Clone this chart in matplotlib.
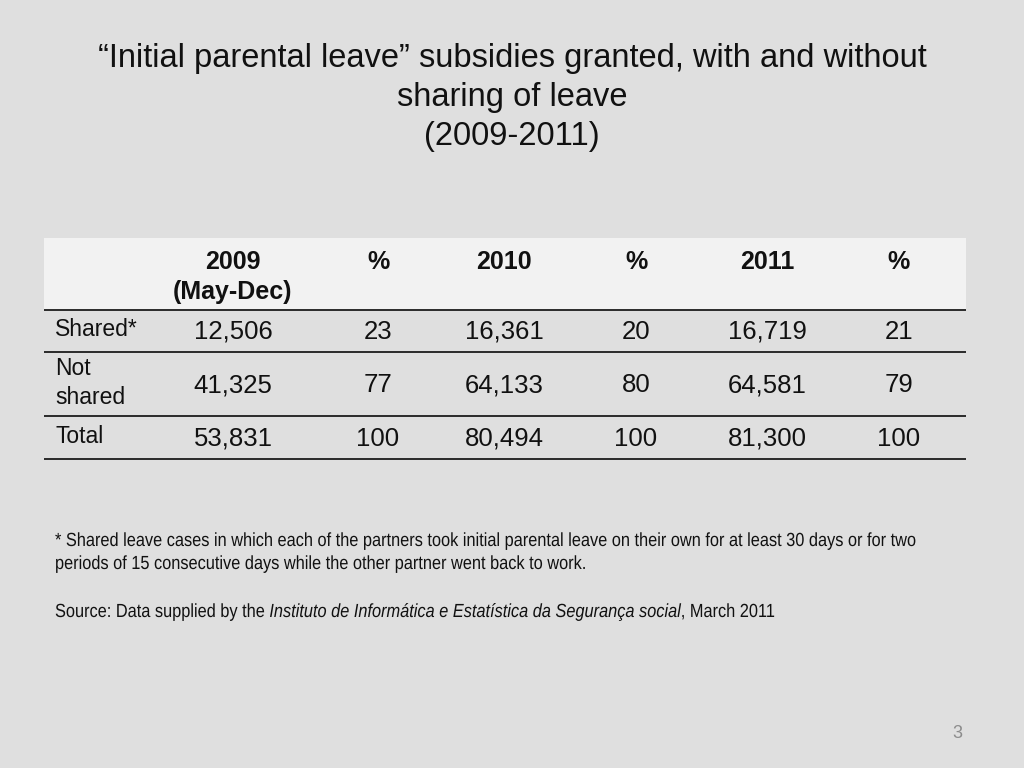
import matplotlib.pyplot as plt
from matplotlib.patches import Rectangle, PathPatch
from matplotlib.font_manager import FontProperties
from matplotlib.textpath import TextPath, text_to_path
from matplotlib.transforms import Affine2D

title_lines = ["\u201cInitial parental leave\u201d subsidies granted, with and without",
               "sharing of leave",
               "(2009-2011)"]
col_headers = ["2009\n(May-Dec)", "%", "2010", "%", "2011", "%"]
row_labels = ["Shared*", "Not\nshared", "Total"]
values = [
    ["12,506", "23", "16,361", "20", "16,719", "21"],
    ["41,325", "77", "64,133", "80", "64,581", "79"],
    ["53,831", "100", "80,494", "100", "81,300", "100"],
]
footnote_lines = [
    "* Shared leave cases in which each of the partners took initial parental leave on their own for at least 30 days or for two",
    "periods of 15 consecutive days while the other partner went back to work.",
]
source_parts = [("Source: Data supplied by the ", "normal"),
                ("Instituto de Inform\u00e1tica e Estat\u00edstica da Seguran\u00e7a social", "italic"),
                (", March 2011", "normal")]

plt.rcParams['font.family'] = ['Liberation Sans', 'DejaVu Sans']
INK = "#111111"

fig = plt.figure(figsize=(10.24, 7.68), dpi=100)
fig.patch.set_facecolor("#dfdfdf")
ax = fig.add_axes([0, 0, 1, 1])
ax.set_xlim(0, 1024)
ax.set_ylim(768, 0)
ax.axis("off")


def text_width(s, px, style="normal"):
    prop = FontProperties(family="Liberation Sans", style=style, size=px)
    w, h, d = text_to_path.get_text_width_height_descent(s, prop, ismath=False)
    return w


def narrow_text(x, y, s, px, sx, style="normal"):
    # condensed text: glyph outlines squeezed horizontally (baseline at y)
    prop = FontProperties(family="Liberation Sans", style=style)
    path = TextPath((0, 0), s, size=px, prop=prop)
    tr = Affine2D().scale(sx, -1).translate(x, y)
    ax.add_patch(PathPatch(tr.transform_path(path), facecolor=INK, edgecolor="none", lw=0))
    return text_width(s, px, style) * sx


# title
for i, line in enumerate(title_lines):
    ax.text(512, 58 + i * 39.5, line, ha="center", va="center", fontsize=23.5, color=INK)

# table geometry
x0, x1 = 44, 966
col_x = [233, 378, 504, 636, 767, 899]
head_top, head_bot = 238, 310
row_bounds = [310, 352, 416, 459]

ax.add_patch(Rectangle((x0, head_top), x1 - x0, head_bot - head_top, facecolor="#f2f2f2", edgecolor="none"))
for yb in row_bounds:
    ax.plot([x0, x1], [yb, yb], color="#2a2a2a", lw=1.4, solid_capstyle="butt")

for cx, h in zip(col_x, col_headers):
    ax.text(cx, 250, h, ha="center", va="top", fontsize=18, fontweight="bold",
            color=INK, linespacing=1.32)

for r, (lab, vals) in enumerate(zip(row_labels, values)):
    yc = (row_bounds[r] + row_bounds[r + 1]) / 2
    ax.text(55, yc - 1, lab, ha="left", va="center", fontsize=16.5, color=INK, linespacing=1.3)
    for cx, v in zip(col_x, vals):
        ax.text(cx, yc + 1, v, ha="center", va="center", fontsize=18.5, color=INK)

# footnote, condensed like the original narrow face
fpx = 19.0
sx = 861 / text_width(footnote_lines[0], fpx)
for i, line in enumerate(footnote_lines):
    narrow_text(55, 546 + i * 23, line, fpx, sx)

xcur = 55
for s, style in source_parts:
    xcur += narrow_text(xcur, 617, s, fpx, sx, style)

ax.text(957, 733, "3", ha="center", va="center", fontsize=13, color="#8c8c8c")

fig.savefig("out.png", dpi=100, facecolor=fig.get_facecolor())
